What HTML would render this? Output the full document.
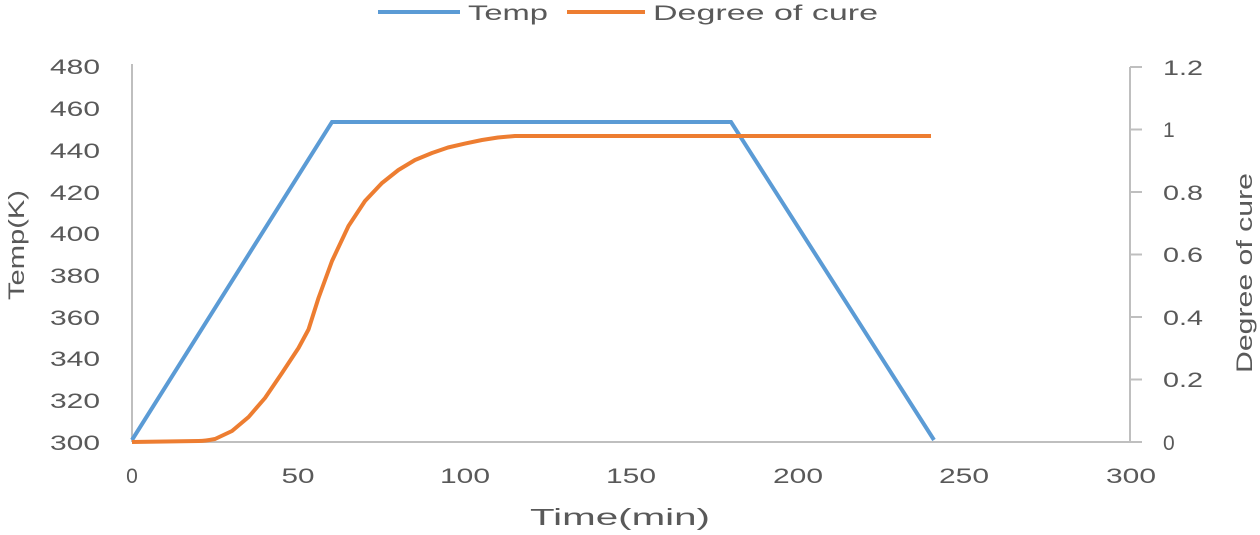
<!DOCTYPE html>
<html><head><style>body{margin:0;background:#fff}</style></head><body>
<svg width="1260" height="530" xmlns="http://www.w3.org/2000/svg" font-family="Liberation Sans, sans-serif" fill="#595959">
<g font-size="21">
<line x1="378" y1="12" x2="460" y2="12" stroke="#5b9bd5" stroke-width="4"/>
<text x="468" y="20" textLength="80" lengthAdjust="spacingAndGlyphs">Temp</text>
<line x1="567" y1="12" x2="645" y2="12" stroke="#ed7d31" stroke-width="4"/>
<text x="653" y="20" textLength="225" lengthAdjust="spacingAndGlyphs">Degree of cure</text>
</g>
<g stroke="#bfbfbf" stroke-width="2">
<line x1="132" y1="64" x2="132" y2="442"/>
<line x1="132" y1="442" x2="1130" y2="442"/>
<line x1="1130" y1="67" x2="1130" y2="442"/>
<path d="M1130 67h12M1130 129.5h12M1130 192h12M1130 254.5h12M1130 317h12M1130 379.5h12M1130 442h12"/>
</g>
<g font-size="21">
<text x="50" y="450" textLength="50" lengthAdjust="spacingAndGlyphs">300</text>
<text x="50" y="408" textLength="50" lengthAdjust="spacingAndGlyphs">320</text>
<text x="50" y="366" textLength="50" lengthAdjust="spacingAndGlyphs">340</text>
<text x="50" y="325" textLength="50" lengthAdjust="spacingAndGlyphs">360</text>
<text x="50" y="283" textLength="50" lengthAdjust="spacingAndGlyphs">380</text>
<text x="50" y="241" textLength="50" lengthAdjust="spacingAndGlyphs">400</text>
<text x="50" y="200" textLength="50" lengthAdjust="spacingAndGlyphs">420</text>
<text x="50" y="158" textLength="50" lengthAdjust="spacingAndGlyphs">440</text>
<text x="50" y="116" textLength="50" lengthAdjust="spacingAndGlyphs">460</text>
<text x="50" y="74" textLength="50" lengthAdjust="spacingAndGlyphs">480</text>
</g>
<g font-size="21">
<text x="1163" y="450">0</text>
<text x="1163" y="387" textLength="40" lengthAdjust="spacingAndGlyphs">0.2</text>
<text x="1163" y="325" textLength="40" lengthAdjust="spacingAndGlyphs">0.4</text>
<text x="1163" y="262" textLength="40" lengthAdjust="spacingAndGlyphs">0.6</text>
<text x="1163" y="200" textLength="40" lengthAdjust="spacingAndGlyphs">0.8</text>
<text x="1163" y="137">1</text>
<text x="1163" y="75" textLength="40" lengthAdjust="spacingAndGlyphs">1.2</text>
</g>
<g font-size="21" text-anchor="middle">
<text x="132" y="483">0</text>
<text x="298" y="483" textLength="33" lengthAdjust="spacingAndGlyphs">50</text>
<text x="465" y="483" textLength="50" lengthAdjust="spacingAndGlyphs">100</text>
<text x="631" y="483" textLength="50" lengthAdjust="spacingAndGlyphs">150</text>
<text x="798" y="483" textLength="50" lengthAdjust="spacingAndGlyphs">200</text>
<text x="964" y="483" textLength="50" lengthAdjust="spacingAndGlyphs">250</text>
<text x="1131" y="483" textLength="50" lengthAdjust="spacingAndGlyphs">300</text>
<text x="620" y="525" font-size="23" textLength="180" lengthAdjust="spacingAndGlyphs">Time(min)</text>
<text transform="translate(24 245) rotate(-90)" font-size="22" textLength="110" lengthAdjust="spacingAndGlyphs">Temp(K)</text>
<text transform="translate(1252 273) rotate(-90)" font-size="22" textLength="200" lengthAdjust="spacingAndGlyphs">Degree of cure</text>
</g>
<polyline fill="none" stroke="#5b9bd5" stroke-width="4" points="132,440 332,122 731,122 934,440"/>
<path fill="none" stroke="#ed7d31" stroke-width="4" stroke-linejoin="round" d="M132,442 L198.6,441 C205,441 210,440 215,439 L232,431 L248.6,417 L265,398 L282,373 L298.5,348 L308.5,329.5 L318.5,298 L332,261 L348.5,226 L365,201 L382,183 L398.4,170 L415,160 L432,153 L448,147.5 L465,143.6 L482,140 L498,137.5 L515,136 L931,136"/>
</svg>
</body></html>
